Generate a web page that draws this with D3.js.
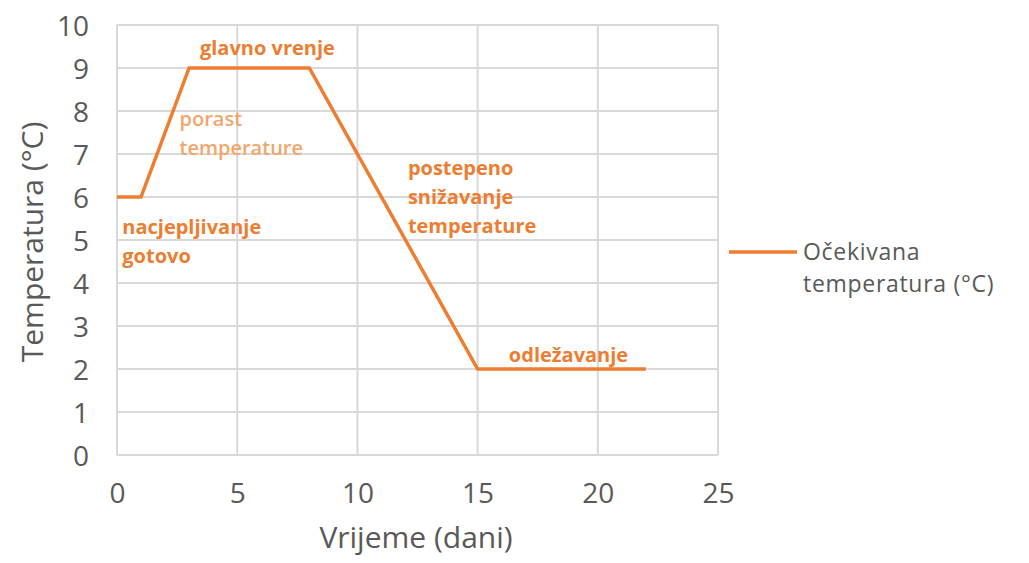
<!DOCTYPE html>
<html><head><meta charset="utf-8">
<script src="https://cdn.jsdelivr.net/npm/d3@7"></script>
<style>body{margin:0;background:#fff}svg{display:block}text{font-family:"Open Sans",Lato,sans-serif}</style>
</head><body><svg id="c" width="1029" height="563"></svg>
<script>
const days = [0, 1, 3, 8, 15, 22];
const temps = [6, 6, 9, 9, 2, 2];
const xTicks = [0, 5, 10, 15, 20, 25];
const yTicks = [0,1,2,3,4,5,6,7,8,9,10];
const seriesName = ["Očekivana", "temperatura  (°C)"];
const xTitle = "Vrijeme (dani)";
const yTitle = "Temperatura (°C)";
const noteLines = [["glavno vrenje"], ["porast", "temperature"], ["nacjepljivanje", "gotovo"], ["postepeno", "snižavanje", "temperature"], ["odležavanje"]];
const noteAt = [[3.45, 9.47], [2.6, 7.81], [0.22, 5.3], [12.1, 6.67], [16.3, 2.33]];
const noteLight = [false, true, false, false, false];

const svg = d3.select("#c");
const x = d3.scaleLinear().domain([0, 25]).range([117, 718]);
const y = d3.scaleLinear().domain([0, 10]).range([455, 25]);
const grid = "#d9d9d9", txt = "#595959", orange = "#ED7D31";

// gridlines
svg.append("g").selectAll("line").data(yTicks).join("line")
  .attr("x1", x(0)).attr("x2", x(25)).attr("y1", d => y(d)).attr("y2", d => y(d))
  .attr("stroke", grid).attr("stroke-width", 2);
svg.append("g").selectAll("line").data(xTicks).join("line")
  .attr("y1", y(0)).attr("y2", y(10)).attr("x1", d => x(d)).attr("x2", d => x(d))
  .attr("stroke", grid).attr("stroke-width", 2);

// axes
const xa = svg.append("g").attr("transform", `translate(0,${y(0)})`)
  .call(d3.axisBottom(x).tickValues(xTicks).tickSize(0).tickPadding(28));
const ya = svg.append("g").attr("transform", `translate(${x(0)},0)`)
  .call(d3.axisLeft(y).tickValues(yTicks).tickSize(0).tickPadding(28));
[xa, ya].forEach(a => { a.select(".domain").remove();
  a.selectAll("text").attr("font-size", 28).attr("fill", txt).attr("font-family", "Open Sans"); });
ya.selectAll("text").attr("dy", "0.36em");

// titles
svg.append("text").attr("x", 416).attr("y", 548).attr("text-anchor", "middle")
  .attr("font-size", 30).attr("fill", txt).text(xTitle);
svg.append("text").attr("transform", "translate(43,242) rotate(-90)").attr("text-anchor", "middle")
  .attr("font-size", 30).attr("fill", txt).text(yTitle);

// line
const pts = days.map((d, i) => [d, temps[i]]);
svg.append("path").datum(pts)
  .attr("d", d3.line().x(d => x(d[0])).y(d => y(d[1])))
  .attr("fill", "none").attr("stroke", orange).attr("stroke-width", 3.5)
  .attr("stroke-linejoin", "miter");

// annotations
noteLines.forEach((lines, i) => {
  lines.forEach((l, j) => svg.append("text")
    .attr("x", x(noteAt[i][0])).attr("y", y(noteAt[i][1]) + j * 29).attr("dy", "0.35em")
    .attr("font-size", 20).attr("font-weight", noteLight[i] ? 600 : 700)
    .attr("fill", noteLight[i] ? "#F2A66C" : orange).text(l));
});

// legend
svg.append("line").attr("x1", 729).attr("x2", 797).attr("y1", 252).attr("y2", 252)
  .attr("stroke", orange).attr("stroke-width", 3.5);
seriesName.forEach((s, j) => svg.append("text").attr("x", 803).attr("y", 252 + j * 32).attr("dy", "0.35em")
  .attr("font-size", 23).attr("letter-spacing", 0.7).attr("fill", txt).text(s));
</script></body></html>
